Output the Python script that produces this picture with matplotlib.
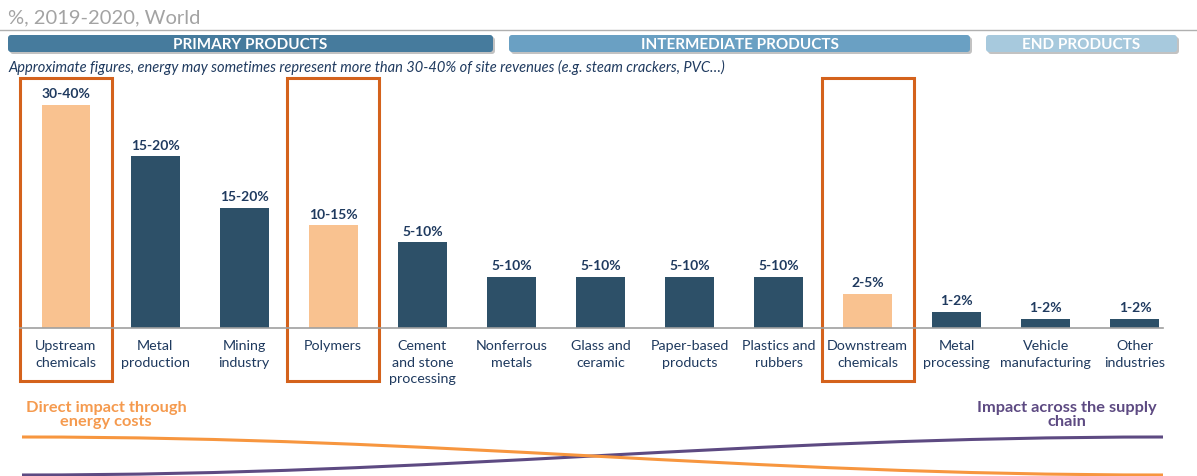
import matplotlib
matplotlib.use("Agg")
import matplotlib.pyplot as plt
import matplotlib.transforms as mtransforms
from matplotlib.patches import FancyBboxPatch, Rectangle, PathPatch
from matplotlib.path import Path

plt.rcParams["font.family"] = ["Lato", "DejaVu Sans"]

# Data
categories = ["Upstream\nchemicals", "Metal\nproduction", "Mining\nindustry", "Polymers",
              "Cement\nand stone\nprocessing", "Nonferrous\nmetals", "Glass and\nceramic",
              "Paper-based\nproducts", "Plastics and\nrubbers", "Downstream\nchemicals",
              "Metal\nprocessing", "Vehicle\nmanufacturing", "Other\nindustries"]
heights = [13, 10, 7, 6, 5, 3, 3, 3, 3, 2, 0.95, 0.56, 0.56]
range_labels = ["30-40%", "15-20%", "15-20%", "10-15%", "5-10%", "5-10%", "5-10%",
                "5-10%", "5-10%", "2-5%", "1-2%", "1-2%", "1-2%"]
highlighted = [True, False, False, True, False, False, False, False, False, True,
               False, False, False]
groups = ["PRIMARY PRODUCTS", "INTERMEDIATE PRODUCTS", "END PRODUCTS"]
group_spans = [(8, 493), (509, 970), (986, 1177)]
group_colors = ["#467b9d", "#6aa0c3", "#a7c9dd"]

W, H = 1197, 477
navy = "#1f3a5f"
dark = "#2d5068"
peach = "#f9c290"
box_orange = "#d4621c"

fig = plt.figure(figsize=(W / 100, H / 100), dpi=100)

# overlay axes in pixel coordinates
ov = fig.add_axes([0, 0, 1, 1])
ov.set_xlim(0, W)
ov.set_ylim(H, 0)
ov.axis("off")

ov.text(8, 18, "%, 2019-2020, World", fontsize=14.5, color="#a3a3a3", va="center", ha="left")
ov.plot([0, W], [31, 31], color="#b0b0b0", lw=1)

for name, (x0, x1), c in zip(groups, group_spans, group_colors):
    sh = FancyBboxPatch((x0 + 2, 38), x1 - x0, 17, boxstyle="round,pad=0,rounding_size=3",
                        fc="#9a9a9a", ec="none", alpha=0.6)
    ov.add_patch(sh)
    p = FancyBboxPatch((x0, 36), x1 - x0, 17, boxstyle="round,pad=0,rounding_size=3",
                       fc=c, ec="none")
    ov.add_patch(p)
    ov.text((x0 + x1) / 2, 45, name, color="white", fontsize=11, fontweight="bold",
            ha="center", va="center")

ov.text(8, 67, "Approximate figures, energy may sometimes represent more than 30-40% of site "
        "revenues (e.g. steam crackers, PVC\u2026)", fontsize=10.5, style="italic",
        color=navy, ha="left", va="center")

# bottom annotations
ov.text(106, 415, "Direct impact through\nenergy costs", color="#f59a4e", fontsize=11.8,
        fontweight="bold", ha="center", va="center", linespacing=1.0)
ov.text(1067, 415, "Impact across the supply\nchain", color="#5d4a82", fontsize=11.8,
        fontweight="bold", ha="center", va="center", linespacing=1.0)

curve_o = Path([(22, 438), (450, 438), (735, 476), (1163, 476)],
               [Path.MOVETO, Path.CURVE4, Path.CURVE4, Path.CURVE4])
curve_p = Path([(22, 476), (450, 476), (735, 438), (1163, 438)],
               [Path.MOVETO, Path.CURVE4, Path.CURVE4, Path.CURVE4])
ov.add_patch(PathPatch(curve_p, fc="none", ec="#5d4a82", lw=2.2))
ov.add_patch(PathPatch(curve_o, fc="none", ec="#f7963f", lw=2.2))

# bar axes
step = 89.08
x_left = (20 - 66) / step
x_right = (1163 - 66) / step
base_px, top_px = 329.3, 79
unit_px = 17.2
ax = fig.add_axes([20 / W, (H - base_px) / H, (1163 - 20) / W, (base_px - top_px) / H])
ax.set_xlim(x_left, x_right)
ax.set_ylim(0, (base_px - top_px) / unit_px)
for s in ["top", "right", "left"]:
    ax.spines[s].set_visible(False)
ax.spines["bottom"].set_color("#a0a0a0")
ax.spines["bottom"].set_linewidth(1.2)
ax.set_yticks([])
ax.patch.set_alpha(0)

xs = list(range(len(categories)))
colors = [peach if h else dark for h in highlighted]
ax.bar(xs, heights, width=0.55, color=colors)
for x, h, lab in zip(xs, heights, range_labels):
    ax.annotate(lab, (x, h), xytext=(0, 4), textcoords="offset points", ha="center",
                va="bottom", fontsize=10, fontweight="bold", color=navy)
ax.set_xticks(xs)
ax.set_xticklabels(categories, fontsize=10.3, color=navy, linespacing=1.42)
ax.tick_params(axis="x", length=0, pad=8)

# highlight boxes
trans = mtransforms.blended_transform_factory(ax.transData, ax.transAxes)
box_bottom = (base_px - 382) / (base_px - top_px)
for x, h in zip(xs, highlighted):
    if h:
        ax.add_patch(Rectangle((x - 0.515, box_bottom), 1.03, 1 - box_bottom, transform=trans,
                               fill=False, ec=box_orange, lw=2.2, clip_on=False))

fig.savefig("out.png", dpi=100)
